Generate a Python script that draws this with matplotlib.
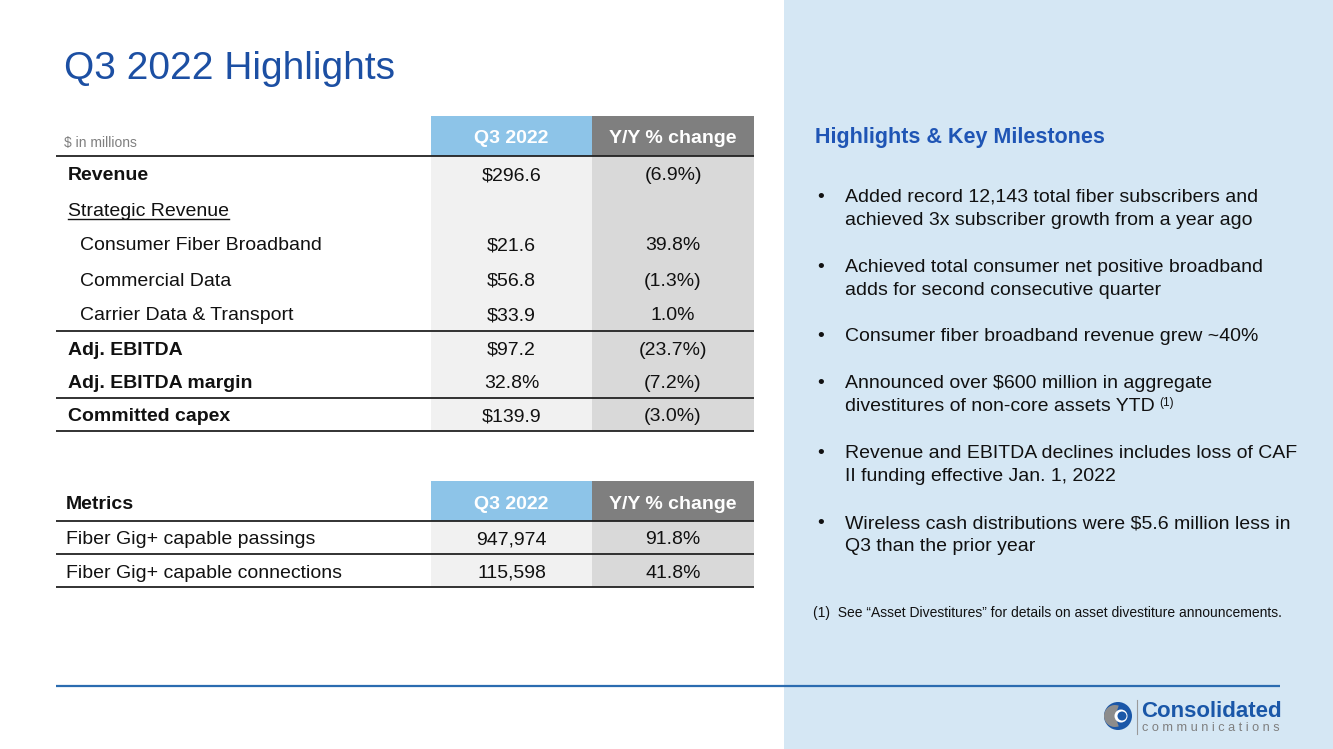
import matplotlib
matplotlib.use("Agg")
import matplotlib.pyplot as plt
from matplotlib.patches import Rectangle, Circle, Wedge

plt.rcParams['font.family'] = ['Liberation Sans', 'DejaVu Sans']

# ---------------- data ----------------
title = "Q3 2022 Highlights"
unit_note = "$ in millions"
col_headers = ["Q3 2022", "Y/Y % change"]

fin_labels = ["Revenue", "Strategic Revenue", "Consumer Fiber Broadband",
              "Commercial Data", "Carrier Data & Transport",
              "Adj. EBITDA", "Adj. EBITDA margin", "Committed capex"]
fin_q3 = ["$296.6", "", "$21.6", "$56.8", "$33.9", "$97.2", "32.8%", "$139.9"]
fin_yoy = ["(6.9%)", "", "39.8%", "(1.3%)", "1.0%", "(23.7%)", "(7.2%)", "(3.0%)"]
fin_bold = [True, False, False, False, False, True, True, True]
fin_indent = [False, False, True, True, True, False, False, False]
fin_underline = [False, True, False, False, False, False, False, False]
fin_rule_after = [False, False, False, False, True, False, True, True]

metrics_title = "Metrics"
met_labels = ["Fiber Gig+ capable passings", "Fiber Gig+ capable connections"]
met_q3 = ["947,974", "115,598"]
met_yoy = ["91.8%", "41.8%"]

panel_heading = "Highlights & Key Milestones"
bullets = [
    "Added record 12,143 total fiber subscribers and\nachieved 3x subscriber growth from a year ago",
    "Achieved total consumer net positive broadband\nadds for second consecutive quarter",
    "Consumer fiber broadband revenue grew ~40%",
    "Announced over $600 million in aggregate\ndivestitures of non-core assets YTD",
    "Revenue and EBITDA declines includes loss of CAF\nII funding effective Jan. 1, 2022",
    "Wireless cash distributions were $5.6 million less in\nQ3 than the prior year",
]
bullet_sup = ["", "", "", "(1)", "", ""]
footnote = "(1)  See \u201cAsset Divestitures\u201d for details on asset divestiture announcements."

# ---------------- colors ----------------
BLUE_TITLE = "#1C4FA3"
HEAD_BLUE = "#8DC4E8"
HEAD_GRAY = "#7F7F7F"
BODY_LIGHT = "#F1F1F1"
BODY_GRAY = "#D9D9D9"
TXT = "#111111"
PANEL = "#D5E7F4"

W, H = 1333, 749
fig = plt.figure(figsize=(W / 100, H / 100), dpi=100)
ax = fig.add_axes([0, 0, 1, 1])
ax.set_xlim(0, W)
ax.set_ylim(H, 0)
ax.axis("off")

# right panel background
ax.add_patch(Rectangle((784, 0), W - 784, H, color=PANEL, lw=0, zorder=0))

FS = 14
BASE = 7  # baseline offset (px) from visual centre of cap height


def txt(x, yc, s, **kw):
    return ax.text(x, yc + BASE * kw.pop("scale", 1.0), s, va="baseline", **kw)


# title
ax.text(64, 65 + 14, title, fontsize=28, color=BLUE_TITLE, va="baseline", ha="left")

x_left, x_c1, x_c2, x_right = 56, 431, 592, 754
c1_mid = (x_c1 + x_c2) / 2
c2_mid = (x_c2 + x_right) / 2

# ---------------- table 1 ----------------
hdr_top, hdr_bot = 116, 156
ax.add_patch(Rectangle((x_c1, hdr_top), x_c2 - x_c1, hdr_bot - hdr_top, color=HEAD_BLUE, lw=0))
ax.add_patch(Rectangle((x_c2, hdr_top), x_right - x_c2, hdr_bot - hdr_top, color=HEAD_GRAY, lw=0))
txt(c1_mid, 136, col_headers[0], fontsize=FS, color="white", weight="bold", ha="center")
txt(c2_mid, 136, col_headers[1], fontsize=FS, color="white", weight="bold", ha="center")
txt(64, 142, unit_note, fontsize=10, color="#7F7F7F", ha="left", scale=0.7)

heights = [35] * 5 + [33.3] * 3
bounds = [hdr_bot]
for h in heights:
    bounds.append(bounds[-1] + h)
tbl_bot = bounds[-1]
ax.add_patch(Rectangle((x_c1, hdr_bot), x_c2 - x_c1, tbl_bot - hdr_bot, color=BODY_LIGHT, lw=0))
ax.add_patch(Rectangle((x_c2, hdr_bot), x_right - x_c2, tbl_bot - hdr_bot, color=BODY_GRAY, lw=0))
ax.plot([x_left, x_right], [hdr_bot, hdr_bot], color="#222222", lw=1.3, solid_capstyle="butt")

underline_jobs = []
for i, lab in enumerate(fin_labels):
    yc = (bounds[i] + bounds[i + 1]) / 2
    x = 80 if fin_indent[i] else 68
    t = txt(x, yc, lab, fontsize=FS, color=TXT, weight="bold" if fin_bold[i] else "normal", ha="left")
    if fin_underline[i]:
        underline_jobs.append((t, yc))
    txt(c1_mid, yc, fin_q3[i], fontsize=FS, color=TXT, ha="center")
    txt(c2_mid, yc, fin_yoy[i], fontsize=FS, color=TXT, ha="center")
    if fin_rule_after[i]:
        ax.plot([x_left, x_right], [bounds[i + 1], bounds[i + 1]], color="#222222", lw=1.3,
                solid_capstyle="butt")

# ---------------- table 2 ----------------
h2_top, h2_bot = 481, 521
ax.add_patch(Rectangle((x_c1, h2_top), x_c2 - x_c1, h2_bot - h2_top, color=HEAD_BLUE, lw=0))
ax.add_patch(Rectangle((x_c2, h2_top), x_right - x_c2, h2_bot - h2_top, color=HEAD_GRAY, lw=0))
txt(c1_mid, 502, col_headers[0], fontsize=FS, color="white", weight="bold", ha="center")
txt(c2_mid, 502, col_headers[1], fontsize=FS, color="white", weight="bold", ha="center")
txt(66, 502, metrics_title, fontsize=FS, color=TXT, weight="bold", ha="left")
rh2 = 33
b2 = [h2_bot + k * rh2 for k in range(len(met_labels) + 1)]
ax.add_patch(Rectangle((x_c1, h2_bot), x_c2 - x_c1, b2[-1] - h2_bot, color=BODY_LIGHT, lw=0))
ax.add_patch(Rectangle((x_c2, h2_bot), x_right - x_c2, b2[-1] - h2_bot, color=BODY_GRAY, lw=0))
for yb in b2:
    ax.plot([x_left, x_right], [yb, yb], color="#222222", lw=1.3, solid_capstyle="butt")
for i, lab in enumerate(met_labels):
    yc = (b2[i] + b2[i + 1]) / 2
    txt(66, yc, lab, fontsize=FS, color=TXT, ha="left")
    txt(c1_mid, yc, met_q3[i], fontsize=FS, color=TXT, ha="center")
    txt(c2_mid, yc, met_yoy[i], fontsize=FS, color=TXT, ha="center")

# ---------------- right panel text ----------------
txt(815, 135, panel_heading, fontsize=15.5, color="#1F55B5", weight="bold", ha="left", scale=1.1)
bullet_tops = [195, 265, 334, 381, 451, 521]
line_h = 23
sup_jobs = []
for i, btxt in enumerate(bullets):
    y0 = bullet_tops[i]
    txt(817, y0, "\u2022", fontsize=FS, color=TXT, ha="left")
    lines = btxt.split("\n")
    for k, ln in enumerate(lines):
        t = txt(845, y0 + k * line_h, ln, fontsize=FS, color=TXT, ha="left")
        if bullet_sup[i] and k == len(lines) - 1:
            sup_jobs.append((t, y0 + k * line_h, bullet_sup[i]))

txt(813, 612, footnote, fontsize=10, color=TXT, ha="left", scale=0.72)

# bottom rule
ax.plot([56, 1280], [686, 686], color="#2B6CB0", lw=1.6, solid_capstyle="butt")

# logo
ax.add_patch(Circle((1118, 716), 14, color="#1A57A8", lw=0, zorder=3))
ax.add_patch(Wedge((1115, 716), 11, 70, 290, color="#8C8C8C", lw=0, zorder=4))
ax.add_patch(Circle((1121, 716), 6.5, color="white", lw=0, zorder=5))
ax.add_patch(Circle((1122, 716), 4.5, color="#1A57A8", lw=0, zorder=6))
ax.plot([1137, 1137], [700, 734], color="#9A9A9A", lw=0.8, zorder=3)
ax.text(1141, 717, "Consolidated", fontsize=16, weight="bold", color="#1A57A8",
        ha="left", va="baseline", zorder=3)
ax.text(1142, 731, "c o m m u n i c a t i o n s", fontsize=9.2, color="#7F7F7F",
        ha="left", va="baseline", zorder=3)

# post-draw: underline and superscripts based on actual text extents
fig.canvas.draw()
r = fig.canvas.get_renderer()
inv = ax.transData.inverted()
for t, yc in underline_jobs:
    bb = t.get_window_extent(r)
    (xa, _), (xb, _) = inv.transform([[bb.x0, bb.y0], [bb.x1, bb.y0]])
    ax.plot([xa, xb], [yc + 10, yc + 10], color=TXT, lw=1.0)
for t, yc, s in sup_jobs:
    bb = t.get_window_extent(r)
    (xb, _), = inv.transform([[bb.x1, bb.y0]])
    ax.text(xb + 4, yc + 2, s, fontsize=8.5, color=TXT, ha="left", va="baseline")

fig.savefig("out.png", dpi=100)
